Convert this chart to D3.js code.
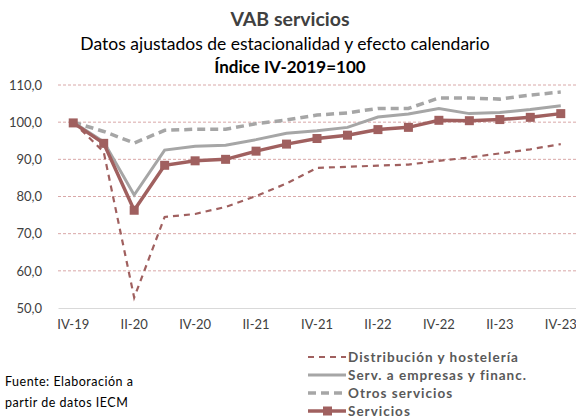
<!DOCTYPE html>
<html>
<head>
<meta charset="utf-8">
<script src="https://cdn.jsdelivr.net/npm/d3@7"></script>
<style>
  body { margin: 0; background: #fff; }
  svg { display: block; font-family: Lato, "Open Sans", sans-serif; }
</style>
</head>
<body>
<div id="chart"></div>
<script>
// trimestres IV-2019 .. IV-2023
var quarters = ["IV-19", "I-20", "II-20", "III-20", "IV-20", "I-21", "II-21", "III-21", "IV-21",
  "I-22", "II-22", "III-22", "IV-22", "I-23", "II-23", "III-23", "IV-23"]
var tickLabels = ["IV-19", "II-20", "IV-20", "II-21", "IV-21", "II-22", "IV-22", "II-23", "IV-23"]
var yTicks = [50, 60, 70, 80, 90, 100, 110]

var distribucion = [100, 92.0, 52.8, 74.5, 75.3, 77.2, 80.1, 83.5, 87.7, 88.0, 88.3, 88.6, 89.6, 90.5, 91.6, 92.7, 94.1]
var empresas = [100, 94.7, 80.4, 92.5, 93.5, 93.8, 95.3, 97.0, 97.7, 98.6, 101.4, 102.2, 103.7, 102.3, 102.6, 103.4, 104.4]
var otros = [100, 97.5, 94.4, 97.8, 98.1, 98.1, 99.6, 100.6, 101.9, 102.5, 103.7, 103.7, 106.5, 106.5, 106.2, 107.3, 108.1]
var servicios = [99.8, 94.3, 76.3, 88.4, 89.6, 90.0, 92.2, 94.1, 95.6, 96.5, 98.0, 98.6, 100.5, 100.4, 100.7, 101.3, 102.3]

var series = [
  { name: "Distribución y hostelería", values: distribucion, color: "#a0605f", width: 2.2, dash: "6,5", marker: false },
  { name: "Serv. a empresas y financ.", values: empresas, color: "#a6a6a6", width: 3, dash: null, marker: false },
  { name: "Otros servicios", values: otros, color: "#a6a6a6", width: 3.5, dash: "8,5", marker: false },
  { name: "Servicios", values: servicios, color: "#a0605f", width: 3.5, dash: null, marker: true }
]

var width = 576, height = 416
var margin = { top: 85, right: 0, bottom: 108, left: 58 }

var svg = d3.select("#chart").append("svg")
  .attr("width", width)
  .attr("height", height)

var x = d3.scaleBand()
  .domain(quarters)
  .range([margin.left, width - margin.right])
var y = d3.scaleLinear()
  .domain([50, 110])
  .range([height - margin.bottom, margin.top])
var cx = q => x(q) + x.bandwidth() / 2

// titulos
svg.append("text").attr("x", 290).attr("y", 26).attr("text-anchor", "middle")
  .style("font-size", "19.5px").style("font-weight", "bold").attr("fill", "#404040")
  .text("VAB servicios")
svg.append("text").attr("x", 285).attr("y", 50).attr("text-anchor", "middle")
  .style("font-size", "17.5px").attr("fill", "#000")
  .text("Datos ajustados de estacionalidad y efecto calendario")
svg.append("text").attr("x", 290).attr("y", 73).attr("text-anchor", "middle")
  .style("font-size", "17px").style("font-weight", "bold").attr("fill", "#000")
  .text("Índice IV-2019=100")

// grid
svg.append("g")
  .selectAll("line")
  .data(yTicks.filter(d => d > 50))
  .enter().append("line")
  .attr("x1", margin.left).attr("x2", width - margin.right)
  .attr("y1", d => y(d)).attr("y2", d => y(d))
  .attr("stroke", "#d9a8a8").attr("stroke-width", 1).attr("stroke-dasharray", "3,2")

var yAxis = g => g
  .attr("transform", `translate(${margin.left}, 0)`)
  .call(d3.axisLeft(y).tickValues(yTicks).tickSize(0).tickPadding(16)
    .tickFormat(d => d3.format(".1f")(d).replace(".", ",")))
  .call(g => g.select(".domain").remove())
  .call(g => g.selectAll("text").style("font-size", "13px").attr("fill", "#404040")
    .style("font-family", "Lato, sans-serif"))

var xAxis = g => g
  .attr("transform", `translate(0, ${y(50)})`)
  .call(d3.axisBottom(x).tickValues(tickLabels).tickSize(0).tickPadding(12))
  .call(g => g.select(".domain").attr("stroke", "#d9d9d9").attr("stroke-width", 1.2))
  .call(g => g.selectAll("text").style("font-size", "13px").attr("fill", "#404040")
    .style("font-family", "Lato, sans-serif"))

svg.append("g").call(yAxis)
svg.append("g").call(xAxis)

var line = d3.line()
  .x((d, i) => cx(quarters[i]))
  .y(d => y(d))

series.forEach(s => {
  svg.append("path")
    .datum(s.values)
    .attr("d", line)
    .attr("fill", "none")
    .attr("stroke", s.color)
    .attr("stroke-width", s.width)
    .attr("stroke-dasharray", s.dash)
  if (s.marker) {
    svg.append("g")
      .selectAll("rect")
      .data(s.values)
      .enter().append("rect")
      .attr("x", (d, i) => cx(quarters[i]) - 4.5)
      .attr("y", d => y(d) - 4.5)
      .attr("width", 9).attr("height", 9)
      .attr("fill", s.color)
  }
})

// leyenda
var legend = svg.append("g")
  .selectAll("g")
  .data(series)
  .enter().append("g")
  .attr("transform", (d, i) => `translate(308, ${357 + i * 18})`)

legend.append("line")
  .attr("x1", 0).attr("x2", 38)
  .attr("stroke", d => d.color)
  .attr("stroke-width", d => d.width)
  .attr("stroke-dasharray", d => d.dash)
legend.filter(d => d.marker).append("rect")
  .attr("x", 15).attr("y", -4.5).attr("width", 9).attr("height", 9)
  .attr("fill", d => d.color)
legend.append("text")
  .attr("x", 40).attr("dy", "0.35em")
  .style("font-size", "13.5px").style("font-weight", "bold")
  .style("letter-spacing", "1px")
  .attr("fill", "#595959")
  .text(d => d.name)

// fuente
var fuente = svg.append("text").style("font-size", "12.5px").style("letter-spacing", "0.5px").attr("fill", "#000")
fuente.append("tspan").attr("x", 5).attr("y", 386).text("Fuente: Elaboración a")
fuente.append("tspan").attr("x", 5).attr("y", 407).text("partir de datos IECM")
</script>
</body>
</html>
